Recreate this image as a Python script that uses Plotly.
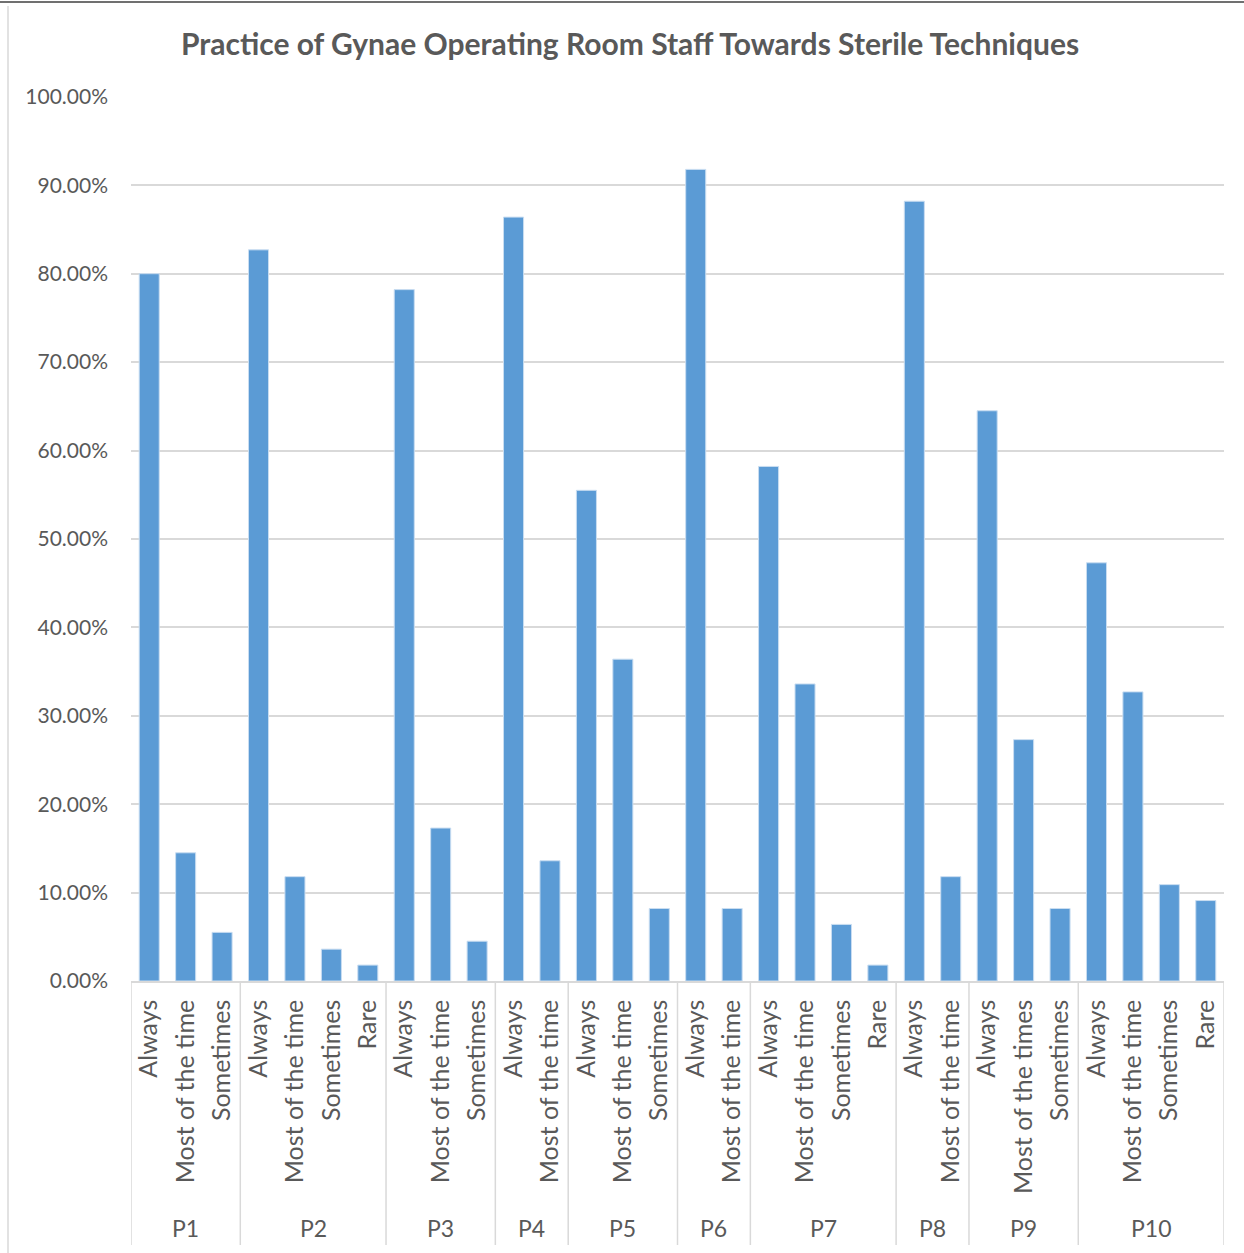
import plotly.graph_objects as go

# Practice questions and the response categories reported for each
groups = ["P1", "P2", "P3", "P4", "P5", "P6", "P7", "P8", "P9", "P10"]
responses = [
    ["Always", "Most of the time", "Sometimes"],
    ["Always", "Most of the time", "Sometimes", "Rare"],
    ["Always", "Most of the time", "Sometimes"],
    ["Always", "Most of the time"],
    ["Always", "Most of the time", "Sometimes"],
    ["Always", "Most of the time"],
    ["Always", "Most of the time", "Sometimes", "Rare"],
    ["Always", "Most of the time"],
    ["Always", "Most of the times", "Sometimes"],
    ["Always", "Most of the time", "Sometimes", "Rare"],
]
# Percentage of staff for each response
percentages = [
    [80.0, 14.5, 5.5],
    [82.7, 11.8, 3.6, 1.8],
    [78.2, 17.3, 4.5],
    [86.4, 13.6],
    [55.5, 36.4, 8.2],
    [91.8, 8.2],
    [58.2, 33.6, 6.4, 1.8],
    [88.2, 11.8],
    [64.5, 27.3, 8.2],
    [47.3, 32.7, 10.9, 9.1],
]
# Value axis ticks
y_ticks = [0, 10, 20, 30, 40, 50, 60, 70, 80, 90, 100]
y_tick_text = [f"{v:.2f}%" for v in y_ticks]

FONT = "Lato"
TEXT = "#595959"
GRID = "#D9D9D9"
BAR = "#5B9BD5"

# Flatten into one position per bar
xpos, labels, values = [], [], []
group_bounds = []
i = 0
for g, labs, vals in zip(groups, responses, percentages):
    start = i
    for lab, v in zip(labs, vals):
        xpos.append(i)
        labels.append(lab)
        values.append(v)
        i += 1
    group_bounds.append((g, start, i - 1))
n = len(values)

fig = go.Figure(go.Bar(
    x=xpos, y=values, width=0.55,
    marker=dict(color=BAR, line=dict(color="#C9DDF1", width=1)),
    hovertemplate="%{y:.2f}%<extra></extra>",
))

plot_h = 1253 - 96 - 272

shapes = []
annotations = []
div_bottom = -(1245 - 981) / plot_h
lab_y = -(1228 - 981) / plot_h
for g, s, e in group_bounds:
    shapes.append(dict(type="line", xref="x", yref="paper", x0=s - 0.5, x1=s - 0.5,
                       y0=0, y1=div_bottom, line=dict(color=GRID, width=1.5)))
    annotations.append(dict(x=(s + e) / 2, y=lab_y, xref="x", yref="paper",
                            text=g, showarrow=False, yanchor="middle",
                            font=dict(family=FONT, size=23, color=TEXT)))
shapes.append(dict(type="line", xref="x", yref="paper", x0=n - 0.5, x1=n - 0.5,
                   y0=0, y1=div_bottom, line=dict(color=GRID, width=1.5)))

# Page frame lines
shapes.append(dict(type="line", xref="paper", yref="paper",
                   x0=-131 / 1093, x1=1 + 20 / 1093, y0=1 + 94 / plot_h, y1=1 + 94 / plot_h,
                   line=dict(color="#404040", width=1.5)))
shapes.append(dict(type="line", xref="paper", yref="paper",
                   x0=-123 / 1093, x1=-123 / 1093, y0=1 + 90 / plot_h, y1=-272 / plot_h,
                   line=dict(color=GRID, width=1.5)))

fig.update_layout(
    width=1244, height=1253,
    margin=dict(l=131, r=20, t=96, b=272),
    paper_bgcolor="white", plot_bgcolor="white",
    showlegend=False,
    title=dict(text="<b>Practice of Gynae Operating Room Staff Towards Sterile Techniques</b>",
               x=630 / 1244, xanchor="center", xref="container",
               y=1 - 44 / 1253, yanchor="middle", yref="container",
               font=dict(family=FONT, size=30, color=TEXT)),
    xaxis=dict(
        range=[-0.5, n - 0.5], tickmode="array", tickvals=xpos, ticktext=labels,
        tickangle=-90, showgrid=False, zeroline=False,
        showline=True, linecolor=GRID, linewidth=1.5,
        ticks="", ticklabelstandoff=7,
        tickfont=dict(family=FONT, size=25, color=TEXT),
    ),
    yaxis=dict(
        range=[0, 100.1], tickmode="array", tickvals=y_ticks, ticktext=y_tick_text,
        showgrid=True, gridcolor=GRID, gridwidth=1.5, zeroline=False,
        showline=False, ticks="", ticklabelstandoff=22,
        tickfont=dict(family=FONT, size=21, color=TEXT),
    ),
    shapes=shapes, annotations=annotations,
)

fig.write_html("out.html")
